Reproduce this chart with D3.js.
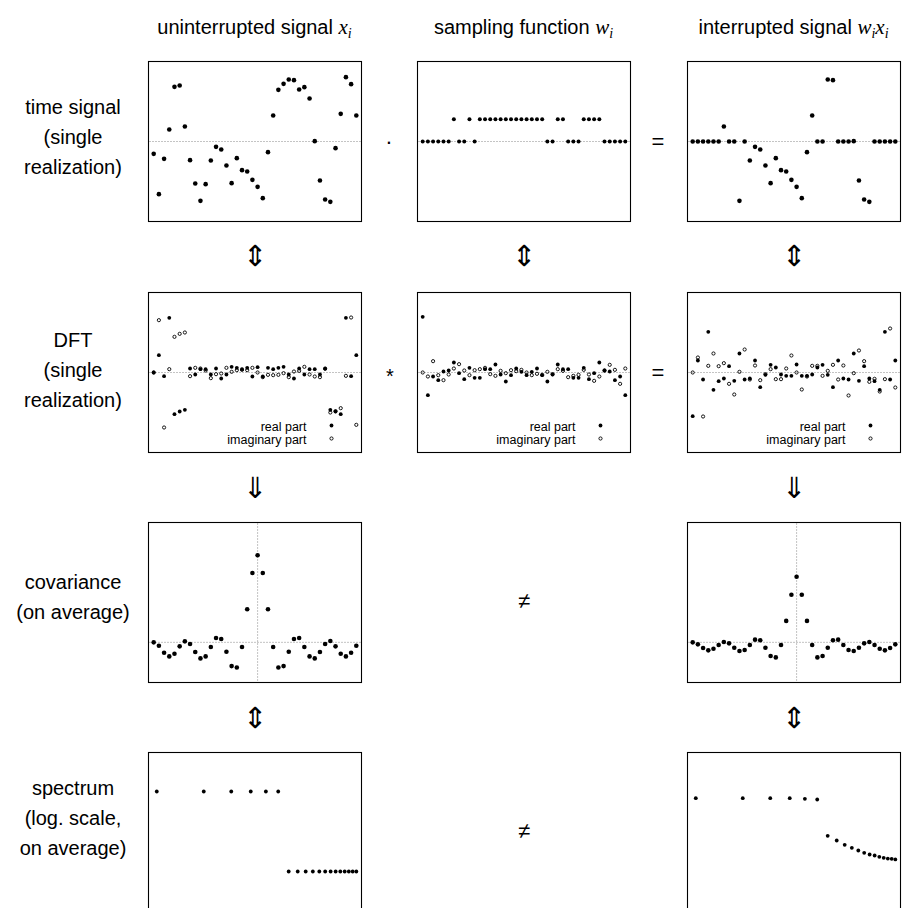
<!DOCTYPE html>
<html>
<head>
<meta charset="utf-8">
<script src="https://cdn.jsdelivr.net/npm/d3@7"></script>
<style>
body{margin:0;background:#fff;}
svg text{font-family:"Liberation Sans",Arial,sans-serif;fill:#000;}
</style>
</head>
<body>
<svg id="chart" width="916" height="908"></svg>
<script>
// ---- data ----
// time signal, single realization (i = 0..39)
const signalX=[-0.37,-1.58,-0.52,0.36,1.64,1.68,0.45,-0.56,-1.26,-1.78,-1.28,-0.57,-0.16,-0.24,-0.72,-1.25,-0.50,-0.86,-0.90,-1.15,
  -1.36,-1.70,-0.32,0.78,1.55,1.73,1.86,1.84,1.56,1.63,1.29,0.01,-1.17,-1.74,-1.81,-0.20,0.83,1.93,1.72,0.78];
// sampling function
const samplingW=[0,0,0,0,0,0,1,0,0,1,0,1,1,1,1,1,1,1,1,1,1,1,1,1,0,0,1,1,0,0,0,1,1,1,1,0,0,0,0,0];
// interrupted signal
const signalWX=[0,0,0,0,0,0,0.45,0,0,-1.78,0,-0.57,-0.16,-0.24,-0.72,-1.25,-0.50,-0.86,-0.90,-1.15,
  -1.36,-1.70,-0.32,0.78,0,0,1.86,1.84,0,0,0,0.01,-1.17,-1.74,-1.81,0,0,0,0,0];

// DFT, real and imaginary parts
const dftXre=[0,5.2,-1.1,16.4,-12.5,-11.7,-11.2,1.2,-0.6,1.0,1.0,-0.6,1.2,-1.8,-0.6,1.7,1.4,1.0,1.4,-1.2,
  1.6,-1.2,1.4,1.0,1.4,1.7,-0.6,-1.8,1.2,-0.6,1.0,1.0,-0.6,1.2,-11.2,-11.7,-12.5,16.4,-1.1,5.2];
const dftXim=[0,15.7,-16.5,1.0,10.7,11.6,12.0,-1.1,1.4,1.2,0.6,-1.7,-0.5,-0.3,1.4,0.2,0.7,0.8,0.7,1.4,
  0,-1.4,-0.7,-0.8,-0.7,-0.2,-1.4,0.3,0.5,1.7,-0.6,-1.2,-1.4,1.1,-12.0,-11.6,-10.7,-1.0,16.5,-15.7];
const dftWre=[16.7,-6.8,-1.2,-2.3,0.3,0.6,3.0,-0.2,-2.0,1.4,-1.6,-1.6,1.0,1.0,2.4,-0.6,-2.7,-0.8,1.2,0.2,
  -0.8,0.2,1.2,-0.8,-2.7,-0.6,2.4,1.0,1.0,-1.6,-1.6,1.4,-2.0,-0.2,3.0,0.6,0.3,-2.3,-1.2,-6.8];
const dftWim=[0,-1.2,3.4,-0.8,-2.3,-0.6,1.2,2.5,0.6,-0.8,0.7,1.0,1.4,-0.5,-1.0,0.5,-0.2,0.7,0.4,0.8,
  0,-0.8,-0.4,-0.7,0.2,-0.5,1.0,0.5,-1.4,-1.0,-0.7,0.8,-0.6,-2.5,-1.2,0.6,2.3,0.8,-3.4,1.2];
const dftWXre=[-13.1,3.6,-2.1,12.2,-5.2,-2.6,-1.8,1.9,-2.5,5.7,-2.1,-1.8,3.6,-4.4,-0.7,2.3,1.5,-0.6,-1.0,-1.0,
  2.4,-1.0,-1.0,-0.6,1.5,2.3,-0.7,-4.4,3.6,-1.8,-2.1,5.7,-2.5,1.9,-1.8,-2.6,-5.2,12.2,-2.1,3.6];
const dftWXim=[0,4.5,-13.2,2.0,5.7,1.9,2.8,-3.4,-6.6,0.2,6.9,-2.1,2.1,-2.3,-0.5,1.0,-2.0,-2.0,1.2,5.1,
  0,-5.1,-1.2,2.0,2.0,-1.0,0.5,2.3,-2.1,2.1,-6.9,-0.2,6.6,3.4,-2.8,-1.9,-5.7,-2.0,13.2,-4.5];

// covariance (on average), lag = i - 20
const covX=[0,-0.10,-0.31,-0.42,-0.34,-0.12,0.03,-0.05,-0.29,-0.48,-0.42,-0.14,0.13,0.10,-0.28,-0.71,-0.75,-0.14,0.99,2.07,
  2.60,2.07,0.99,-0.14,-0.75,-0.71,-0.28,0.10,0.13,-0.14,-0.42,-0.48,-0.29,-0.05,0.04,-0.12,-0.34,-0.42,-0.31,-0.10];
const covWX=[0,-0.06,-0.17,-0.24,-0.19,-0.08,0.01,-0.03,-0.16,-0.26,-0.23,-0.08,0.08,0.06,-0.16,-0.41,-0.45,-0.08,0.64,1.42,
  1.96,1.42,0.64,-0.08,-0.45,-0.41,-0.16,0.06,0.08,-0.08,-0.23,-0.26,-0.16,-0.03,0.01,-0.08,-0.19,-0.24,-0.17,-0.06];

// spectrum (on average), frequencies k = 1..19
const freqK=[1,2,3,4,5,6,7,8,9,10,11,12,13,14,15,16,17,18,19];
const specX=[1,1,1,1,1,1,0.01,0.01,0.01,0.01,0.01,0.01,0.01,0.01,0.01,0.01,0.01,0.01,0.01];
const specWX=[0.681,0.681,0.681,0.681,0.656,0.631,0.078,0.0596,0.0464,0.039,0.0335,0.0293,0.0266,0.0251,0.0233,0.022,0.0211,0.0207,0.02];

const colTitles=[["uninterrupted signal ",["x"]],["sampling function ",["w"]],["interrupted signal ",["w","x"]]];
const rowLabels=[["time signal","(single","realization)"],["DFT","(single","realization)"],
  ["covariance","(on average)"],["spectrum","(log. scale,","on average)"]];
const legendLabels=["real part","imaginary part"];

// ---- layout ----
const PW=213, PH=160;
const colX=[148,417,687];
const rowY=[61,292,522,752];
const labelMid=[137,370,597,818];
const svg=d3.select("#chart");
const idx=d3.range(40);
const xIdx=d3.scaleLinear().domain([-1,40]).range([0,PW]);

function panel(col,row){
    let g=svg.append("g").attr("transform","translate("+(colX[col]+0.5)+","+(rowY[row]+0.5)+")");
    g.append("rect").attr("width",PW).attr("height",PH)
        .attr("fill","none").attr("stroke","#000").attr("stroke-width",1.1);
    return g;
}
function hDots(g,y){
    g.append("line").attr("x1",1).attr("x2",PW-1).attr("y1",y).attr("y2",y)
        .attr("stroke","#888").attr("stroke-width",1).attr("stroke-dasharray","1,2");
}
function vDots(g,x){
    g.append("line").attr("x1",x).attr("x2",x).attr("y1",1).attr("y2",PH-1)
        .attr("stroke","#888").attr("stroke-width",1).attr("stroke-dasharray","1,2");
}
function dots(g,xs,ys,xscale,yscale,r){
    g.append("g").selectAll("circle").data(xs).join("circle")
        .attr("cx",(d)=>xscale(d))
        .attr("cy",(d,i)=>yscale(ys[i]))
        .attr("r",r).attr("fill","#000");
}
function rings(g,xs,ys,xscale,yscale,r){
    g.append("g").selectAll("circle").data(xs).join("circle")
        .attr("cx",(d)=>xscale(d))
        .attr("cy",(d,i)=>yscale(ys[i]))
        .attr("r",r).attr("fill","none").attr("stroke","#000").attr("stroke-width",0.9);
}

// row 1: time signals
let ySig=d3.scaleLinear().domain([-2.4,2.4]).range([PH,0]);
let yW=d3.scaleLinear().domain([-3.58,3.58]).range([PH,0]);
[[signalX,ySig,2.3],[samplingW,yW,2.0],[signalWX,ySig,2.3]].forEach(function(s,c){
    let g=panel(c,0);
    hDots(g,s[1](0));
    dots(g,idx,s[0],xIdx,s[1],s[2]);
});

// row 2: DFTs
let yDft=d3.scaleLinear().domain([-24,24]).range([PH,0]);
[[dftXre,dftXim],[dftWre,dftWim],[dftWXre,dftWXim]].forEach(function(s,c){
    let g=panel(c,1);
    hDots(g,yDft(0));
    rings(g,idx,s[1],xIdx,yDft,1.6);
    dots(g,idx,s[0],xIdx,yDft,1.9);
    // legend
    let lx=PW-55;
    legendLabels.forEach(function(t,j){
        g.append("text").attr("x",lx).attr("y",138+j*13).attr("text-anchor","end")
            .attr("font-size",12.5).text(t);
        let m=g.append("circle").attr("cx",PW-30).attr("cy",133+j*13);
        if (j===0) m.attr("r",1.9).attr("fill","#000");
        else m.attr("r",1.6).attr("fill","none").attr("stroke","#000").attr("stroke-width",0.9);
    });
});

// row 3: covariances
let yCov=d3.scaleLinear().domain([-1.2,3.58]).range([PH,0]);
[[covX,0],[covWX,2]].forEach(function(s){
    let g=panel(s[1],2);
    hDots(g,yCov(0));
    vDots(g,xIdx(20));
    dots(g,idx,s[0],xIdx,yCov,2.3);
});

// row 4: spectra (log scales)
let xLog=d3.scaleLog().domain([0.885,20.5]).range([0,PW]);
let yLog=d3.scaleLog().domain([Math.pow(10,-3.025),Math.pow(10,0.975)]).range([PH,0]);
[[specX,0],[specWX,2]].forEach(function(s){
    let g=panel(s[1],3);
    dots(g,freqK,s[0],xLog,yLog,1.9);
});

// column titles
colTitles.forEach(function(t,c){
    let tx=svg.append("text").attr("x",colX[c]+PW/2).attr("y",34)
        .attr("text-anchor","middle").attr("font-size",20);
    tx.append("tspan").text(t[0]);
    t[1].forEach(function(v,j){
        tx.append("tspan").attr("font-family","Liberation Serif").attr("font-style","italic")
            .attr("font-size",21).attr("dy",j>0?-4:0).text(v);
        tx.append("tspan").attr("font-family","Liberation Serif").attr("font-style","italic")
            .attr("font-size",14).attr("dy",4).text("i");
    });
});

// row labels
rowLabels.forEach(function(lines,r){
    let n=lines.length;
    lines.forEach(function(l,j){
        svg.append("text").attr("x",73).attr("y",labelMid[r]+(j-(n-1)/2)*30+7)
            .attr("text-anchor","middle").attr("font-size",20).text(l);
    });
});

// operators between panels
const ops=[["\u00b7",389,141,22],["=",658,141,22],["*",390,376,20],["=",658,372,22],["\u2260",524,600,22],["\u2260",524,830,22]];
ops.forEach(function(o){
    svg.append("text").attr("x",o[1]).attr("y",o[2]).attr("dy","0.35em")
        .attr("text-anchor","middle").attr("font-size",o[3]).attr("font-family","DejaVu Sans").text(o[0]);
});
// double arrows between rows
const arrows=[["\u21d5",0,256],["\u21d5",1,256],["\u21d5",2,256],["\u21d3",0,488],["\u21d3",2,488],["\u21d5",0,718],["\u21d5",2,718]];
arrows.forEach(function(a){
    svg.append("text").attr("x",colX[a[1]]+PW/2).attr("y",a[2])
        .attr("dy","0.36em").attr("text-anchor","middle").attr("font-size",29)
        .attr("font-family","DejaVu Sans").text(a[0]);
});
</script>
</body>
</html>
